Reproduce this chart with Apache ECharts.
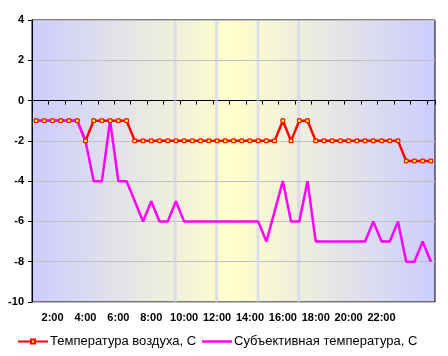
<!DOCTYPE html>
<html>
<head>
<meta charset="utf-8">
<script src="https://cdn.jsdelivr.net/npm/echarts@6/dist/echarts.min.js"></script>
<style>html,body{margin:0;padding:0;background:#fff}#c{width:448px;height:356px}</style>
</head>
<body>
<div id="c"></div>
<script>
var categories = ['1:00','1:30','2:00','2:30','3:00','3:30','4:00','4:30','5:00','5:30','6:00','6:30',
  '7:00','7:30','8:00','8:30','9:00','9:30','10:00','10:30','11:00','11:30','12:00','12:30',
  '13:00','13:30','14:00','14:30','15:00','15:30','16:00','16:30','17:00','17:30','18:00','18:30',
  '19:00','19:30','20:00','20:30','21:00','21:30','22:00','22:30','23:00','23:30','0:00','0:30','1:00'];
var tickLabels = ['2:00','4:00','6:00','8:00','10:00','12:00','14:00','16:00','18:00','20:00','22:00'];
var airTemp = [-1,-1,-1,-1,-1,-1,-2,-1,-1,-1,-1,-1,
  -2,-2,-2,-2,-2,-2,-2,-2,-2,-2,-2,-2,-2,-2,-2,-2,-2,-2,
  -1,-2,-1,-1,
  -2,-2,-2,-2,-2,-2,-2,-2,-2,-2,-2,
  -3,-3,-3,-3];
var feelTemp = [-1,-1,-1,-1,-1,-1,-2,-4,-4,-1,-4,-4,-5,-6,-5,-6,-6,-5,
  -6,-6,-6,-6,-6,-6,-6,-6,-6,-6,
  -7,-5.5,-4,-6,-6,-4,
  -7,-7,-7,-7,-7,-7,-7,
  -6,-7,-7,-6,-8,-8,-7,-8];
var yTicks = {min: -10, max: 4, step: 2};
var seriesNames = ['Температура воздуха, С', 'Субъективная температура, С'];

var FONT = '"Liberation Sans", Arial, sans-serif';
var chart = echarts.init(document.getElementById('c'), null, {renderer: 'canvas'});
var gL = 32, gT = 20, gR = 13, gB = 54;
var plotW = 448 - gL - gR, plotH = 356 - gT - gB;
var vLines = [0.355, 0.458, 0.561, 0.662];
var graphics = vLines.map(function (f) {
  return {type: 'rect', z: 1, silent: true,
    shape: {x: gL + f * plotW - 1.5, y: gT + 1, width: 3, height: plotH - 1},
    style: {fill: 'rgba(205,205,250,0.6)'}};
});

chart.setOption({
  animation: false,
  textStyle: {fontFamily: FONT},
  graphic: graphics,
  grid: {left: gL, top: gT, right: gR, bottom: gB, show: true, borderColor: '#000', borderWidth: 1,
    backgroundColor: new echarts.graphic.LinearGradient(0, 0, 1, 0, [
      {offset: 0, color: '#CCCCFF'}, {offset: 0.5, color: '#FFFFCC'}, {offset: 1, color: '#CCCCFF'}])},
  legend: [
    {data: [seriesNames[0]], left: 17, top: 335, itemWidth: 30, itemHeight: 5, padding: 0,
      textStyle: {fontFamily: FONT, fontSize: 13, color: '#000', padding: [0,0,0,-3]}},
    {data: [{name: seriesNames[1], icon: 'rect'}], left: 202, top: 335, itemWidth: 30, itemHeight: 2.5, padding: 0,
      textStyle: {fontFamily: FONT, fontSize: 13, color: '#000', padding: [0,0,0,-3]}}
  ],
  xAxis: {
    type: 'category', data: categories, boundaryGap: true,
    axisLine: {lineStyle: {color: '#000', width: 1}},
    axisTick: {show: true, length: 4, inside: false, lineStyle: {color: '#000'},
      interval: function (i) { return i % 2 === 0; }},
    axisLabel: {margin: 10, fontFamily: FONT, fontSize: 11, fontWeight: 'bold', color: '#000',
      interval: function (i, v) { return tickLabels.indexOf(v) >= 0; }},
    splitLine: {show: false}
  },
  yAxis: {
    type: 'value', min: yTicks.min, max: yTicks.max, interval: yTicks.step,
    axisLine: {show: true, lineStyle: {color: '#000', width: 1}},
    axisTick: {show: true, length: 4, lineStyle: {color: '#000'}},
    axisLabel: {margin: 8, fontFamily: FONT, fontSize: 11, fontWeight: 'bold', color: '#000'},
    splitLine: {show: true, lineStyle: {color: '#C0C0C0', width: 1}}
  },
  series: [
    {name: seriesNames[0], type: 'line', data: airTemp, z: 2,
      symbol: 'rect', symbolSize: 3.5, showAllSymbol: true,
      lineStyle: {color: '#FF0000', width: 2.5},
      itemStyle: {color: '#FFFF00', borderColor: '#FF0000', borderWidth: 1}},
    {name: seriesNames[1], type: 'line', data: feelTemp, z: 3,
      symbol: 'none', lineStyle: {color: '#FF00FF', width: 2.5},
      itemStyle: {color: '#FF00FF'}},
    {name: seriesNames[0], type: 'line', data: airTemp, z: 4,
      symbol: 'rect', symbolSize: 3.5, showAllSymbol: true,
      lineStyle: {width: 0, opacity: 0},
      itemStyle: {color: '#FFFF00', borderColor: '#FF0000', borderWidth: 1}}
  ]
});
</script>
</body>
</html>
